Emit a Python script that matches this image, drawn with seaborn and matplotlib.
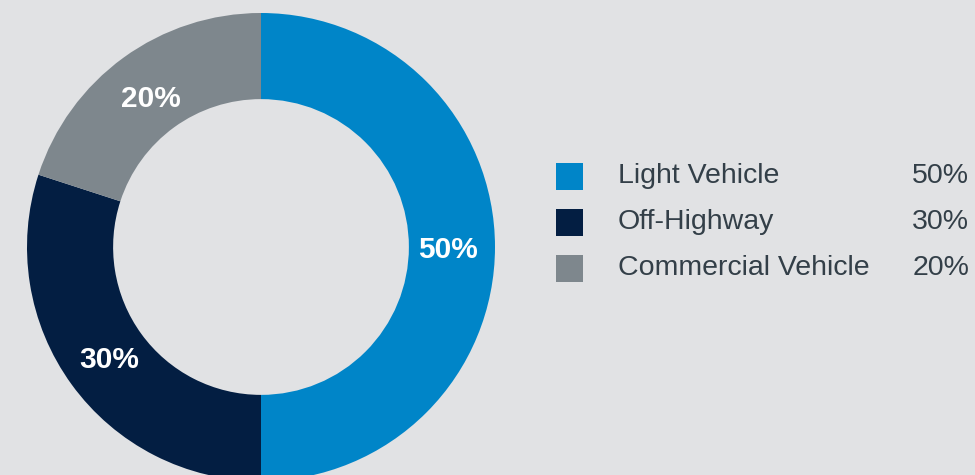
import matplotlib.pyplot as plt
import seaborn as sns
from matplotlib.patches import Rectangle

segments = ["Light Vehicle", "Off-Highway", "Commercial Vehicle"]
shares = [50, 30, 20]
colors = ["#0085C8", "#031E42", "#7E878D"]

bg = "#E1E2E4"
sns.set_theme(style="white")
plt.rcParams['font.family'] = ['Liberation Sans', 'DejaVu Sans']

fig = plt.figure(figsize=(9.75, 4.75), dpi=100, facecolor=bg)
# axes in pixel units so the layout is easy to match
ax = fig.add_axes([0, 0, 1, 1])
ax.set_facecolor(bg)
ax.axis("off")

R = 234
wedges, texts, autotexts = ax.pie(
    shares, colors=colors, radius=R, center=(261, 475 - 247),
    startangle=90, counterclock=False,
    wedgeprops=dict(width=R * 0.368, linewidth=0),
    autopct='%1.0f%%', pctdistance=0.80,
    textprops=dict(color="white", fontsize=21.5, fontweight="bold"),
)
for t in autotexts:
    x, y = t.get_position()
    t.set_position((x, y - 3))
ax.set_xlim(0, 975)
ax.set_ylim(0, 475)
ax.set_aspect("equal")

# legend
row_y = [475 - 176, 475 - 222, 475 - 268]
for name, val, col, y in zip(segments, shares, colors, row_y):
    ax.add_patch(Rectangle((556, y - 13.5), 27, 27, color=col, lw=0))
    ax.text(618, y, name, fontsize=20.5, color="#333F48", va="center", ha="left")
    ax.text(969, y, f"{val}%", fontsize=20.5, color="#333F48", va="center", ha="right")

fig.savefig("out.png", dpi=100, facecolor=bg)
